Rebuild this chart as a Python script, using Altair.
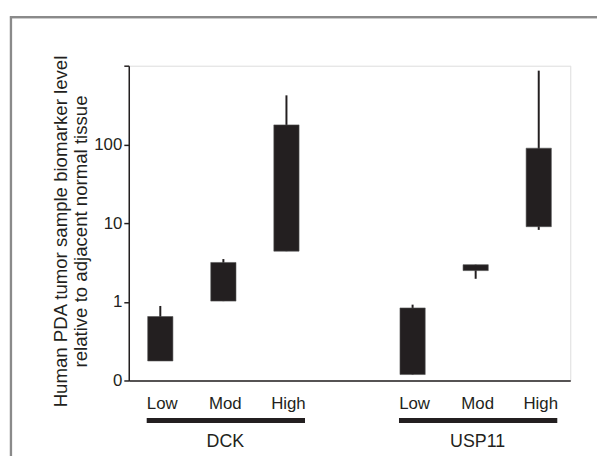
import altair as alt
import pandas as pd

# ---- data ----
categories = ["DCK|Low", "DCK|Mod", "DCK|High", "USP11|Low", "USP11|Mod", "USP11|High"]
x_domain = ["DCK|Low", "DCK|Mod", "DCK|High", "gap", "USP11|Low", "USP11|Mod", "USP11|High"]
box_low = [0.177, 1.02, 4.4, 0.119, 2.49, 9.0]
box_high = [0.65, 3.16, 177, 0.835, 2.96, 89.5]
whisker_low = [0.177, 1.02, 4.4, 0.119, 1.96, 8.2]
whisker_high = [0.885, 3.49, 420, 0.92, 2.96, 865]

groups = ["DCK", "USP11"]
group_first = ["DCK|Low", "USP11|Low"]
group_mid = ["DCK|Mod", "USP11|Mod"]
group_last = ["DCK|High", "USP11|High"]

y_ticks = [0.1, 1, 10, 100, 1000]

df = pd.DataFrame({
    "cat": categories,
    "lo": box_low,
    "hi": box_high,
    "wlo": whisker_low,
    "whi": whisker_high,
})
gdf = pd.DataFrame({"group": groups, "first": group_first, "mid": group_mid, "last": group_last})

W, H = 446, 318
FONT = "Liberation Sans"
INK = "#231f20"

xscale = alt.Scale(domain=x_domain, paddingInner=0.6, paddingOuter=0.3)
yscale = alt.Scale(type="log", domain=[0.1, 1000], nice=False)

x_axis = alt.Axis(
    title=None, ticks=False, labelAngle=0, labelFontSize=17, labelFont=FONT,
    labelColor=INK, labelPadding=15, labelOffset=2, domainColor=INK, domainWidth=1.5,
    labelExpr="indexof(datum.label, '|') >= 0 ? split(datum.label, '|')[1] : ''",
)
y_axis = alt.Axis(
    title=["Human PDA tumor sample biomarker level", "relative to adjacent normal tissue"],
    titleFont=FONT, titleFontSize=18.8, titleFontWeight="normal", titleColor=INK,
    titlePadding=3, titleY=H / 2 + 8, titleAlign="center", titleBaseline="bottom",
    values=y_ticks, grid=False, tickSize=5, tickColor=INK, tickWidth=1.5,
    domainColor=INK, domainWidth=1.5, labelFont=FONT, labelFontSize=17, labelColor=INK,
    labelPadding=2,
    labelExpr="datum.value < 0.5 ? '0' : (datum.value > 500 ? '' : datum.label)",
)

base = alt.Chart(df)

whiskers = base.mark_rule(color=INK, strokeWidth=2).encode(
    x=alt.X("cat:N", scale=xscale, axis=x_axis, sort=x_domain),
    y=alt.Y("wlo:Q", scale=yscale, axis=y_axis),
    y2="whi:Q",
)

boxes = base.mark_bar(color=INK, stroke="#555555", strokeWidth=0.6).encode(
    x=alt.X("cat:N", scale=xscale, sort=x_domain),
    y=alt.Y("lo:Q", scale=yscale),
    y2="hi:Q",
)

gbase = alt.Chart(gdf)
group_lines = gbase.mark_rect(color=INK, xOffset=-1, x2Offset=6).encode(
    x=alt.X("first:N", scale=xscale, bandPosition=0),
    x2=alt.X2("last:N", bandPosition=1),
    y=alt.value(H + 38),
    y2=alt.value(H + 43),
)
group_text = gbase.mark_text(font=FONT, fontSize=18, color=INK, baseline="middle", dx=2).encode(
    x=alt.X("mid:N", scale=xscale),
    y=alt.value(H + 62),
    text="group:N",
)

frame_top = gbase.mark_rule(color="#8a8a8a", strokeWidth=2.2).encode(
    x=alt.value(-120), x2=alt.value(W + 60), y=alt.value(-49)
)
frame_left = gbase.mark_rule(color="#8a8a8a", strokeWidth=2.2).encode(
    x=alt.value(-119), y=alt.value(-50), y2=alt.value(H + 120)
)

chart = alt.layer(
    frame_top, frame_left, whiskers, boxes, group_lines, group_text
).properties(
    width=W, height=H,
    autosize=alt.AutoSizeParams(type="none"),
    padding={"left": 122, "top": 56, "right": 27, "bottom": 74},
).configure_view(stroke=None).configure(background="white")

chart.save("out.html", embed_options={"renderer": "svg", "actions": False})
